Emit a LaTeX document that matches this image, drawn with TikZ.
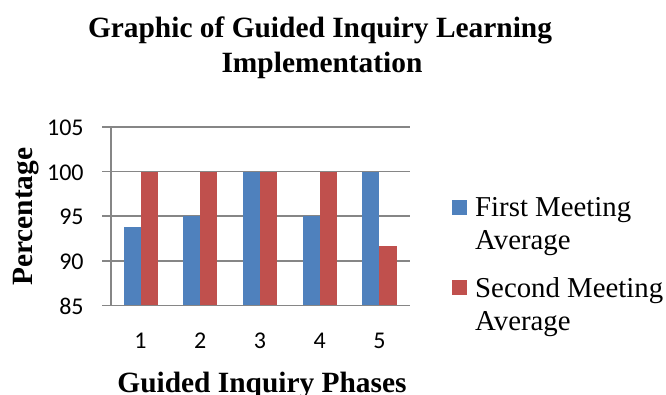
\documentclass[tikz,border=0pt]{standalone}
\usepackage{fontspec}
\setmainfont{Liberation Serif}
\newfontfamily\calib{Carlito}
\definecolor{barblue}{HTML}{4F81BD}
\definecolor{barred}{HTML}{C0504D}
\definecolor{gridgray}{RGB}{134,134,134}
\tikzset{
  titletext/.style={font=\fontsize{29.4}{34}\selectfont\bfseries, inner sep=0pt},
  legtext/.style={font=\fontsize{28.8}{33}\selectfont, inner sep=0pt, anchor=base west},
  ticktext/.style={font=\calib\fontsize{24}{28}\selectfont, inner sep=0pt},
  gridln/.style={draw=gridgray, line width=1.6pt},
  bluebar/.style={fill=barblue, draw=none},
  redbar/.style={fill=barred, draw=none},
}
\begin{document}
\begin{tikzpicture}[x=1pt,y=-1pt]
\useasboundingbox (0,0) rectangle (666,394);
% title
\node[titletext, anchor=base] (t1) at (320,37.7) {Graphic of Guided Inquiry Learning};
\node[titletext, anchor=base] (t2) at (322,72.3) {Implementation};
% gridlines and ticks
\foreach \v/\yy in {105/126.9,100/171.5,95/216.1,90/260.7,85/305.3}{
  \draw[gridln] (102.3,\yy) -- (409.5,\yy);
  \node[ticktext, anchor=east] (yl\v) at (83.8,\yy+1) {\v};
}
% y axis
\draw[gridln] (110.7,126.9) -- (110.7,305.3);
% bars
\foreach \i/\b/\r in {1/93.75/100,2/95/100,3/100/100,4/95/100,5/100/91.67}{
  \pgfmathsetmacro{\c}{110.7+59.72*(\i-0.5)}
  \pgfmathsetmacro{\yb}{305.3-(\b-85)*8.92}
  \pgfmathsetmacro{\yr}{305.3-(\r-85)*8.92}
  \fill[bluebar] (\c-17.06,305.3) rectangle (\c,\yb);
  \fill[redbar] (\c,305.3) rectangle (\c+17.06,\yr);
  \node[ticktext] (xl\i) at (\c,340.5) {\i};
}
\draw[gridln] (102.3,305.3) -- (409.5,305.3);
% axis titles
\node[titletext, rotate=90, anchor=base] (ylab) at (32.5,216.7) {Percentage};
\node[titletext, anchor=base] (xlab) at (262,392) {Guided Inquiry Phases};
% legend
\fill[barblue] (451.7,200) rectangle (467.3,215.3);
\fill[barred] (451.7,280) rectangle (467.3,295.3);
\node[legtext] (l1a) at (475,216.5) {First Meeting};
\node[legtext] (l1b) at (475,249.5) {Average};
\node[legtext] (l2a) at (475,297) {Second Meeting};
\node[legtext] (l2b) at (475,330) {Average};
\end{tikzpicture}
\end{document}
